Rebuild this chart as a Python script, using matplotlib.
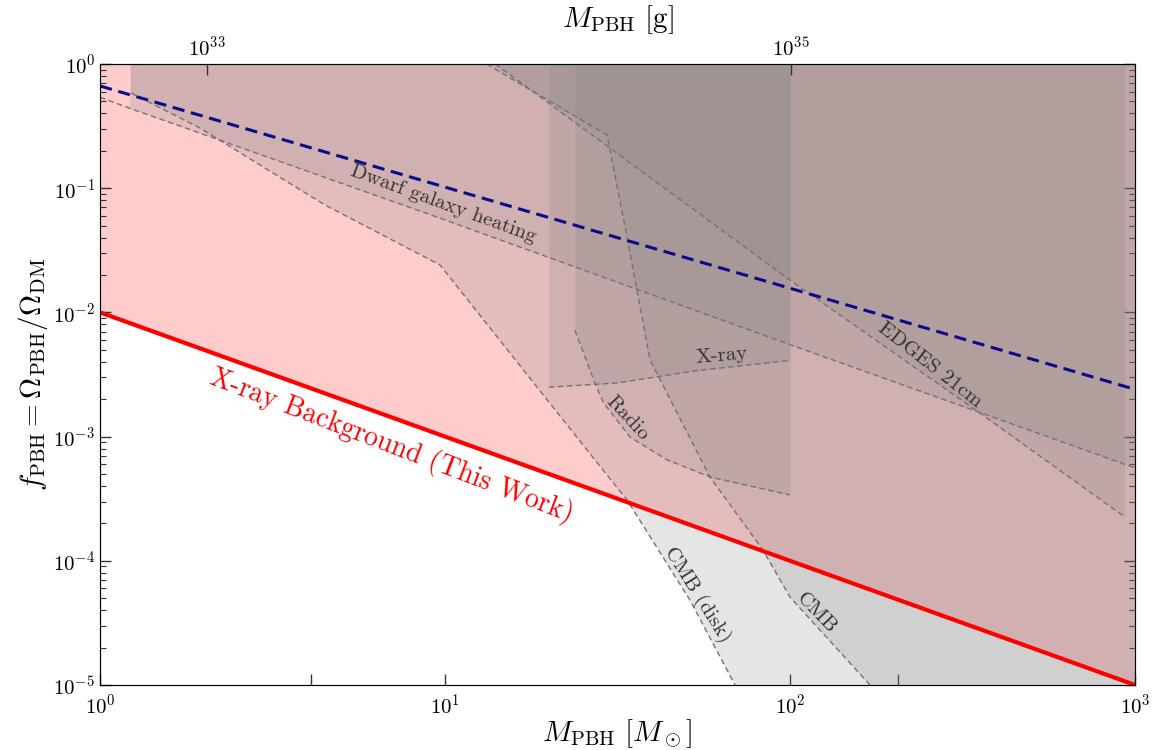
import numpy as np
import matplotlib
matplotlib.use("Agg")
import matplotlib.pyplot as plt

plt.rcParams['mathtext.fontset'] = 'cm'
plt.rcParams['font.family'] = 'cmr10'
plt.rcParams['axes.formatter.use_mathtext'] = True

# X-ray background bound (this work)
xrb_m = [1.0, 1000.0]
xrb_f = [1e-2, 1e-5]

# blue dashed line
blue_m = [1.0, 1000.0]
blue_f = [0.665, 2.4e-3]

# dwarf galaxy heating (shading starts at the second point)
dg_m = [1.0, 1.22, 10.0, 100.0, 1000.0]
dg_f = [0.54, 0.44, 0.0555, 5.5e-3, 5.6e-4]

# CMB (disk)
cmbd_m = [1.23, 1.95, 4.49, 9.67, 25.8, 33.7, 51.3, 69.3]
cmbd_f = [0.584, 0.305, 0.0732, 0.0241, 7.8e-4, 3.09e-4, 4.83e-5, 1e-5]

# CMB
cmb_m = [13.2, 29.5, 33.7, 36.0, 39.3, 58.6, 83.5, 100.0, 170.6]
cmb_f = [1.0, 0.268, 0.0405, 0.0152, 4.14e-3, 4.73e-4, 1.22e-4, 5.1e-5, 1e-5]

# EDGES 21cm
edges_m = [14.0, 100.0, 355.0, 935.0]
edges_f = [1.0, 0.0182, 1.55e-3, 2.25e-4]

# X-ray
xray_m = [20.0, 31.5, 53.7, 100.0]
xray_f = [2.5e-3, 2.7e-3, 3.4e-3, 4.1e-3]

# Radio
radio_m = [23.8, 27.2, 28.8, 34.4, 44.0, 58.6, 100.0]
radio_f = [7.2e-3, 2.7e-3, 1.87e-3, 9.9e-4, 6.5e-4, 4.73e-4, 3.39e-4]

fig = plt.figure(figsize=(11.6, 7.5), dpi=100)
ax = fig.add_axes([0.0862, 0.0867, 0.8922, 0.828])
ax.set_xscale('log')
ax.set_yscale('log')
ax.set_xlim(1, 1000)
ax.set_ylim(1e-5, 1)

gcol = 'gray'
galpha = 0.2
ls = dict(color='0.45', lw=1.0, ls=(0, (4, 2.5)))

# pink region above the red line
ax.fill_between(xrb_m, xrb_f, 1, color='red', alpha=0.2, lw=0, zorder=1)

# constraints
ax.fill_between(dg_m[1:], dg_f[1:], 1, color=gcol, alpha=galpha, lw=0, zorder=2)
ax.plot(dg_m, dg_f, **ls, zorder=4)

ax.fill(cmbd_m + [1000, 1000, cmbd_m[0]], cmbd_f + [1e-5, 1, 1], color=gcol, alpha=galpha, lw=0, zorder=2)
ax.plot(cmbd_m, cmbd_f, **ls, zorder=4)

ax.fill(cmb_m + [1000, 1000], cmb_f + [1e-5, 1], color=gcol, alpha=galpha, lw=0, zorder=2)
ax.plot(cmb_m, cmb_f, **ls, zorder=4)

ax.fill(edges_m + [edges_m[-1]], edges_f + [1], color=gcol, alpha=galpha, lw=0, zorder=2)
ax.plot(edges_m, edges_f, **ls, zorder=4)

ax.fill_between(xray_m, xray_f, 1, color=gcol, alpha=galpha, lw=0, zorder=2)
ax.plot(xray_m, xray_f, **ls, zorder=4)

ax.fill_between(radio_m, radio_f, 1, color=gcol, alpha=galpha, lw=0, zorder=2)
ax.plot(radio_m, radio_f, **ls, zorder=4)

ax.plot(xrb_m, xrb_f, color='red', lw=3, zorder=6)
ax.plot(blue_m, blue_f, color='#0a0a8a', lw=2.2, ls=(0, (4, 2.2)), zorder=6)

# labels
tk = dict(family='cmr10', color='0.2', fontsize=15, ha='center', va='center',
          rotation_mode='anchor', zorder=7)
ax.text(9.9, 0.075, 'Dwarf galaxy heating', rotation=-20, **tk)
ax.text(63.5, 4.5e-3, 'X-ray', rotation=5, **tk)
ax.text(33.7, 1.4e-3, 'Radio', rotation=-47, **tk)
ax.text(255, 3.8e-3, 'EDGES 21cm', rotation=-38, **tk)
ax.text(53.8, 5.3e-5, 'CMB (disk)', rotation=-58, **tk)
ax.text(119, 3.8e-5, 'CMB', rotation=-46, **tk)
ax.text(7.0, 8.5e-4, 'X-ray Background (This Work)', family='cmr10', color='red',
        fontsize=20, rotation=-21, ha='center', va='center', rotation_mode='anchor', zorder=7)

ax.set_xlabel(r'$M_{\rm PBH}\ [M_\odot]$', fontsize=21, labelpad=0)
ax.set_ylabel(r'$f_{\rm PBH} = \Omega_{\rm PBH}/\Omega_{\rm DM}$', fontsize=21, labelpad=2)

ax.set_xticks([1, 10, 100, 1000])
ax.set_xticks([4.1, 205], minor=True)
ax.tick_params(axis='x', which='both', direction='in', length=8, width=1,
               labelsize=15, top=False, colors='0.2', labelcolor='black', pad=6)
ax.tick_params(axis='y', which='major', direction='in', length=8, width=1,
               labelsize=15, right=True, colors='0.2', labelcolor='black')
ax.tick_params(axis='y', which='minor', direction='in', length=4, width=0.8,
               right=True, colors='0.2')
ax.tick_params(axis='x', which='minor', labelbottom=False)
for s in ax.spines.values():
    s.set_color('0.35')

# top axis in grams
axt = ax.twiny()
axt.set_xscale('log')
axt.set_xlim(10**32.634, 10**36.178)
axt.set_xticks([1e33, 1e35])
axt.xaxis.set_minor_locator(matplotlib.ticker.NullLocator())
axt.tick_params(axis='x', direction='in', length=8, width=1, labelsize=15, colors='0.2',
                labelcolor='black', pad=3)
axt.set_xlabel(r'$M_{\rm PBH}\ [{\rm g}]$', fontsize=21, labelpad=6)

fig.savefig('out.png', dpi=100)
